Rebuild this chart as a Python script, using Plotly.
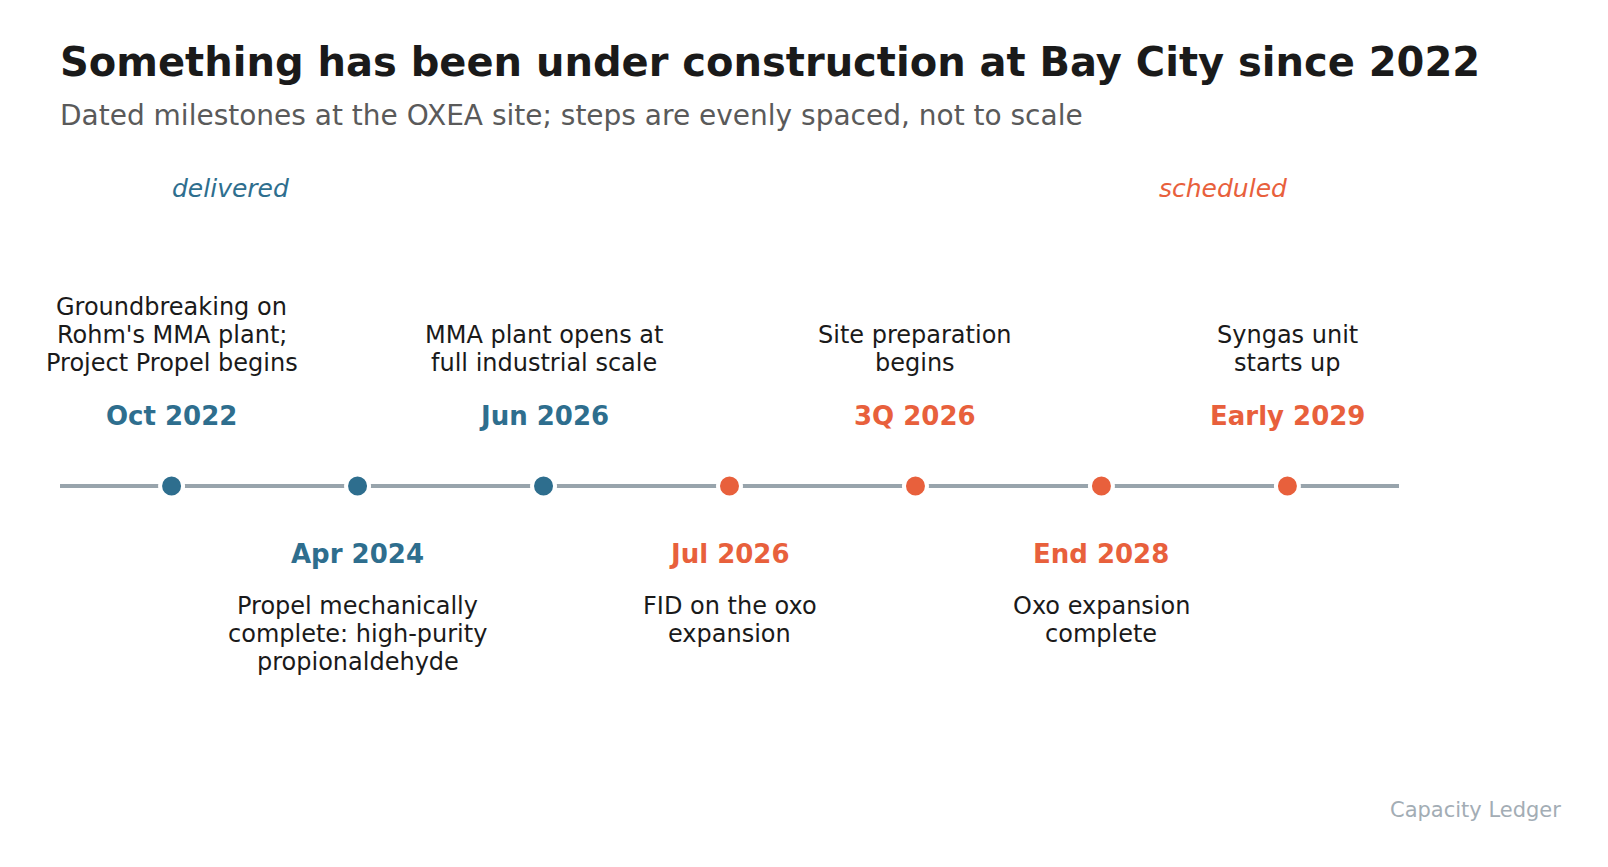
import plotly.graph_objects as go

dates = ['Oct 2022', 'Apr 2024', 'Jun 2026', 'Jul 2026', '3Q 2026', 'End 2028', 'Early 2029']
events = [
    ["Groundbreaking on", "Rohm's MMA plant;", "Project Propel begins"],
    ['Propel mechanically', 'complete: high-purity', 'propionaldehyde'],
    ['MMA plant opens at', 'full industrial scale'],
    ['FID on the oxo', 'expansion'],
    ['Site preparation', 'begins'],
    ['Oxo expansion', 'complete'],
    ['Syngas unit', 'starts up'],
]
status = ['delivered', 'delivered', 'delivered', 'scheduled', 'scheduled', 'scheduled', 'scheduled']

BLUE = '#2e6e8e'
ORANGE = '#e8603c'
GREY = '#98a4ac'
INK = '#1a1a1a'
FONT = 'DejaVu Sans'
LINE_GAP = 28.2

steps = list(range(len(dates)))
colors = [BLUE if s == 'delivered' else ORANGE for s in status]

fig = go.Figure()
fig.add_trace(go.Scatter(x=[-0.6, 6.6], y=[0, 0], mode='lines',
                         line=dict(color=GREY, width=4), hoverinfo='skip'))
fig.add_trace(go.Scatter(x=steps, y=[0] * len(steps), mode='markers',
                         marker=dict(size=23, color=colors, line=dict(color='white', width=4)),
                         hoverinfo='skip'))

for i, (d, ev, c) in enumerate(zip(dates, events, colors)):
    up = i % 2 == 0
    fig.add_annotation(x=i, y=0, text='<b>%s</b>' % d, showarrow=False,
                       yanchor='middle', yshift=70.5 if up else -67.5,
                       font=dict(family=FONT, size=26, color=c))
    # one annotation per line so the line spacing matches
    n = len(ev)
    for k, line in enumerate(ev):
        if up:
            shift = 123 + LINE_GAP * (n - 1 - k)
        else:
            shift = -(120 + LINE_GAP * k)
        fig.add_annotation(x=i, y=0, text=line, showarrow=False,
                           yanchor='middle', yshift=shift,
                           font=dict(family=FONT, size=24, color=INK))

fig.add_annotation(x=0, y=0, text='<i>delivered</i>', showarrow=False, xanchor='left',
                   yanchor='middle', yshift=298, xshift=-2,
                   font=dict(family=FONT, size=25, color=BLUE))
fig.add_annotation(x=6, y=0, text='<i>scheduled</i>', showarrow=False, xanchor='right',
                   yanchor='middle', yshift=298, xshift=2,
                   font=dict(family=FONT, size=25, color=ORANGE))

fig.add_annotation(xref='paper', yref='paper', x=1.1225, y=0, xanchor='right', yanchor='middle',
                   yshift=4, text='Capacity Ledger', showarrow=False,
                   font=dict(family=FONT, size=21, color='#a3adb5'))

fig.add_annotation(xref='paper', yref='paper', x=0, y=1, xanchor='left', yanchor='middle',
                   yshift=43, xshift=-2, showarrow=False,
                   text='Dated milestones at the OXEA site; steps are evenly spaced, not to scale',
                   font=dict(family=FONT, size=28, color='#5a5a5a'))

fig.update_layout(
    width=1608, height=867,
    margin=dict(l=52, r=217, t=150, b=61),
    paper_bgcolor='white', plot_bgcolor='white',
    showlegend=False,
    title=dict(
        text='<b>Something has been under construction at Bay City since 2022</b>',
        x=0, xref='paper', xanchor='left', y=1 - 53.5 / 867, yanchor='middle',
        font=dict(family=FONT, size=40, color=INK)),
)
fig.update_xaxes(range=[-0.6, 6.6], visible=False, fixedrange=True)
fig.update_yaxes(range=[-1, 1], visible=False, fixedrange=True)

fig.write_html('out.html')
